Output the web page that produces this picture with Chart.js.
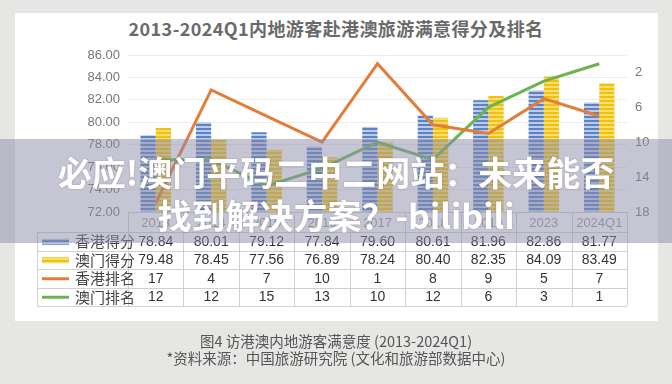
<!DOCTYPE html>
<html>
<head>
<meta charset="utf-8">
<script src="https://cdn.jsdelivr.net/npm/chart.js@4"></script>
<style>
  html, body { margin: 0; padding: 0; }
  body { width: 672px; height: 384px; background: #e6e6e4; position: relative; overflow: hidden;
         font-family: "Noto Sans CJK SC", "Liberation Sans", sans-serif; }
  #card { position: absolute; left: 15px; top: 13px; width: 643px; height: 308px; background: #fff; }
  #title { position: absolute; left: 0; width: 672px; top: 16px; text-align: center; font-size: 18px;
           font-weight: bold; color: #6a6a6a; letter-spacing: 0.4px; line-height: 24px; }
  #wrap { position: absolute; left: 0; top: 0; width: 672px; height: 384px; }
  #band { position: absolute; left: 0; top: 139px; width: 672px; height: 104px; background: rgba(140, 140, 170, 0.5);
          color: #fff; text-align: center; font-weight: bold; font-size: 34px; line-height: 43px;
          text-shadow: 0 0 2px rgba(0,0,0,0.25); }
  #band div { white-space: nowrap; }
  .cap { position: absolute; left: 0; width: 672px; text-align: center; font-size: 14.5px; color: #555; line-height: 18px; }
</style>
</head>
<body>
<div id="card"></div>
<div id="title">2013-2024Q1内地游客赴港澳旅游满意得分及排名</div>
<div id="wrap"><canvas id="myChart" width="672" height="384"></canvas></div>
<div id="band"><div style="margin-top:11px">必应!澳门平码二中二网站：未来能否</div><div>找到解决方案？-bilibili</div></div>
<div class="cap" style="top:332px">图4 访港澳内地游客满意度 (2013-2024Q1)</div>
<div class="cap" style="top:349px">*资料来源：中国旅游研究院 (文化和旅游部数据中心)</div>
<script>
const years = ["2013", "2014", "2015", "2016", "2017", "2018", "2019", "2023", "2024Q1"];
const hkScore = [78.84, 80.01, 79.12, 77.84, 79.60, 80.61, 81.96, 82.86, 81.77];
const moScore = [79.48, 78.45, 77.56, 76.89, 78.24, 80.40, 82.35, 84.09, 83.49];
const hkRank = [17, 4, 7, 10, 1, 8, 9, 5, 7];
const moRank = [12, 12, 15, 13, 10, 12, 6, 3, 1];
const seriesNames = ["香港得分", "澳门得分", "香港排名", "澳门排名"];

const stripes = (dark, light) => {
  const c = document.createElement("canvas");
  c.width = 4;
  c.height = 4;
  const g = c.getContext("2d");
  g.fillStyle = light;
  g.fillRect(0, 0, 4, 4);
  g.fillStyle = dark;
  g.fillRect(0, 0, 4, 2);
  return g.createPattern(c, "repeat");
};

const blueFill = stripes("#5a82c4", "#bccbe8");
const yellowFill = stripes("#f2c20a", "#f8dd70");
const orange = "#e27d3a";
const green = "#6db34e";

// table under the plot, columns follow the x scale
const tablePlugin = {
  id: "table",
  afterDraw(chart) {
    const ctx = chart.ctx;
    const xs = chart.scales.x;
    const n = years.length;
    const colW = xs.width / n;
    const left = xs.left, right = xs.right;
    const top = 212, rowTops = [232, 250.5, 269, 287.5, 306];
    const labelLeft = 37;
    ctx.save();
    ctx.strokeStyle = "#d0d0d0";
    ctx.lineWidth = 1;
    ctx.beginPath();
    ctx.moveTo(left, top + 0.5);
    ctx.lineTo(right, top + 0.5);
    rowTops.forEach((y) => {
      ctx.moveTo(labelLeft, Math.round(y) + 0.5);
      ctx.lineTo(right, Math.round(y) + 0.5);
    });
    ctx.moveTo(labelLeft + 0.5, rowTops[0]);
    ctx.lineTo(labelLeft + 0.5, rowTops[4]);
    for (let i = 0; i <= n; i++) {
      const x = Math.round(left + colW * i) + 0.5;
      ctx.moveTo(x, top);
      ctx.lineTo(x, rowTops[4]);
    }
    ctx.stroke();

    const rows = [hkScore, moScore, hkRank, moRank];
    ctx.textBaseline = "middle";
    rows.forEach((vals, r) => {
      const cy = (rowTops[r] + rowTops[r + 1]) / 2 + 0.5;
      // legend key
      if (r < 2) {
        ctx.fillStyle = r === 0 ? blueFill : yellowFill;
        ctx.fillRect(42, cy - 3, 27, 6);
      } else {
        ctx.strokeStyle = r === 2 ? orange : green;
        ctx.lineWidth = 3;
        ctx.beginPath();
        ctx.moveTo(42, cy);
        ctx.lineTo(69, cy);
        ctx.stroke();
      }
      ctx.fillStyle = "#444";
      ctx.font = "15px 'Noto Sans CJK SC'";
      ctx.textAlign = "left";
      ctx.fillText(seriesNames[r], 75, cy);
      ctx.textAlign = "center";
      ctx.font = "14px 'Liberation Sans'";
      ctx.fillStyle = "#333";
      vals.forEach((v, i) => {
        const txt = r < 2 ? v.toFixed(2) : String(v);
        ctx.fillText(txt, xs.getPixelForValue(i), cy);
      });
    });
    ctx.restore();
  },
};

const makeGraph = () => {
  const chart_ctx = document.getElementById("myChart");
  const data = {
    labels: years,
    datasets: [
      {
        type: "line",
        label: seriesNames[2],
        data: hkRank,
        yAxisID: "y2",
        borderColor: orange,
        borderWidth: 3,
        pointRadius: 0,
        tension: 0,
        order: 0,
      },
      {
        type: "line",
        label: seriesNames[3],
        data: moRank,
        yAxisID: "y2",
        borderColor: green,
        borderWidth: 3,
        pointRadius: 0,
        tension: 0,
        order: 0,
      },
      {
        type: "bar",
        label: seriesNames[0],
        data: hkScore,
        yAxisID: "y",
        backgroundColor: blueFill,
        categoryPercentage: 0.55,
        barPercentage: 1,
        order: 1,
      },
      {
        type: "bar",
        label: seriesNames[1],
        data: moScore,
        yAxisID: "y",
        backgroundColor: yellowFill,
        categoryPercentage: 0.55,
        barPercentage: 1,
        order: 1,
      },
    ],
  };
  const config = {
    data,
    options: {
      responsive: false,
      animation: false,
      layout: { padding: { top: 55, left: 0, right: 0, bottom: 0 } },
      plugins: { legend: { display: false }, tooltip: { enabled: false }, title: { display: false } },
      scales: {
        x: {
          grid: { display: false, drawTicks: false },
          border: { display: false },
          ticks: { color: "#999", font: { family: "Liberation Sans", size: 13 }, padding: 4, maxRotation: 0 },
          afterFit: (s) => { s.height = 172; },
        },
        y: {
          position: "left",
          min: 72,
          max: 86,
          ticks: {
            stepSize: 2,
            color: "#777",
            padding: 8,
            font: { family: "Liberation Sans", size: 13 },
            callback: (v) => v.toFixed(2),
          },
          grid: { color: "#ececec", drawTicks: false },
          border: { display: false },
          afterFit: (s) => { s.width = 128; },
        },
        y2: {
          position: "right",
          reverse: true,
          min: 0,
          max: 18,
          ticks: { stepSize: 2, color: "#777", padding: 8, font: { family: "Liberation Sans", size: 13 } },
          grid: { display: false, drawTicks: false },
          border: { display: false },
          afterFit: (s) => { s.width = 45; },
        },
      },
    },
    plugins: [tablePlugin],
  };
  return new Chart(chart_ctx, config);
};

makeGraph();
</script>
</body>
</html>
